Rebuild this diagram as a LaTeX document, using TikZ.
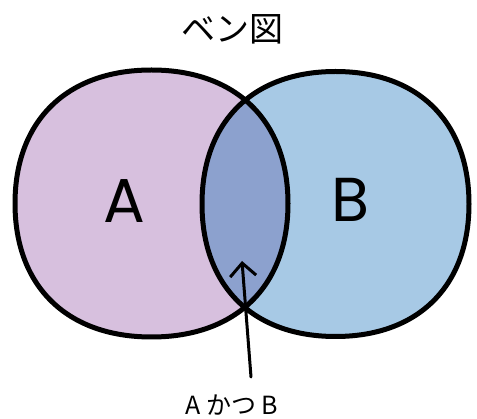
\documentclass[tikz,border=0pt]{standalone}
\usepackage{fontspec}
\setmainfont{Poppins}
\newfontfamily\jpfont{Noto Sans CJK JP}
\usepackage{tikz}
\usetikzlibrary{arrows.meta, positioning}
\definecolor{setA}{RGB}{215,192,222}
\definecolor{setB}{RGB}{167,201,229}
\definecolor{setAB}{RGB}{140,161,206}

\begin{document}
\begin{tikzpicture}[x=1pt, y=-1pt,
        lobe/.style n args={4}{insert path={
          (#1+#3,#2) .. controls (#1+#3,#2+0.62*#4) and (#1+0.62*#3,#2+#4) .. (#1,#2+#4)
          .. controls (#1-0.62*#3,#2+#4) and (#1-#3,#2+0.62*#4) .. (#1-#3,#2)
          .. controls (#1-#3,#2-0.62*#4) and (#1-0.62*#3,#2-#4) .. (#1,#2-#4)
          .. controls (#1+0.62*#3,#2-#4) and (#1+#3,#2-0.62*#4) .. (#1+#3,#2) -- cycle}},
        rim/.style={draw=black, line width=5pt, line join=round},
        setname/.style={font=\fontsize{62}{62}\selectfont, inner sep=0pt},
        jplabel/.style={font=\jpfont\fontsize{25}{25}\selectfont, inner sep=0pt}]
      \useasboundingbox (0,0) rectangle (477,419);
      % fills
      \fill[setA, lobe={151.5}{203.5}{136.5}{133.5}];
      \fill[setB, lobe={335.5}{204}{133.5}{132.5}];
      \begin{scope}
        \clip[lobe={151.5}{203.5}{136.5}{133.5}];
        \fill[setAB, lobe={335.5}{204}{133.5}{132.5}];
      \end{scope}
      % outlines
      \path[rim, lobe={151.5}{203.5}{136.5}{133.5}];
      \path[rim, lobe={335.5}{204}{133.5}{132.5}];

      \node[jplabel, font=\jpfont\fontsize{34}{34}\selectfont] (title) at (232.5,29) {ベン図};
      \node[setname] (nameA) at (124,201) {A};
      \node[setname] (nameB) at (350,200) {B};
      \node[jplabel] (both) at (232,405) {A かつ B};

      \coordinate (foot) at (251,377);
      \coordinate (tip) at (242,261);
      \draw[-{Straight Barb[length=13pt, width=26pt, line width=3pt]}, line width=3pt, line cap=round] (foot) -- (tip);
    \end{tikzpicture}
\end{document}
